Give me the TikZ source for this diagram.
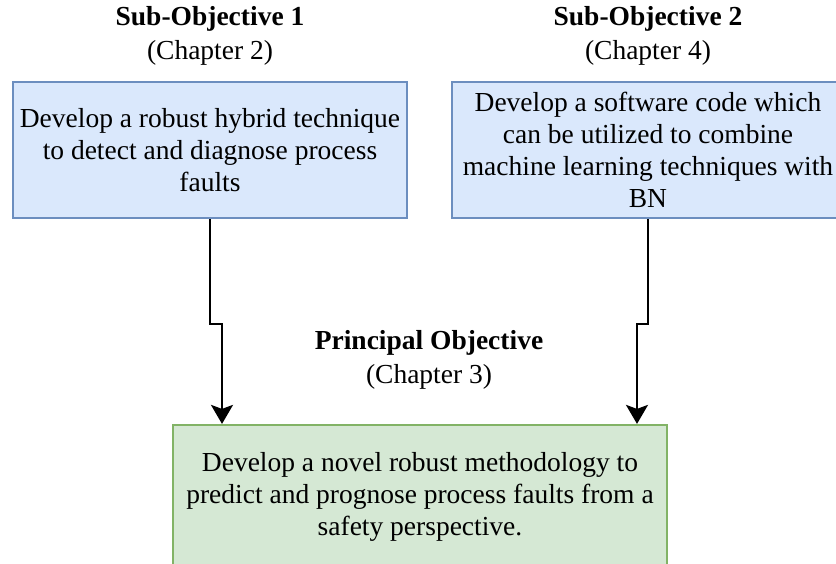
\documentclass[tikz,border=0pt]{standalone}
\usepackage{fontspec}
\setmainfont{Liberation Serif}
\usetikzlibrary{arrows.meta}
\definecolor{subfill}{HTML}{DAE8FC}
\definecolor{subline}{HTML}{6C8EBF}
\definecolor{mainfill}{HTML}{D5E8D4}
\definecolor{mainline}{HTML}{82B366}
\tikzset{
    txt/.style = {font=\fontsize{27.5}{32}\selectfont, align=center, inner sep=0pt},
    subbox/.style = {txt, draw=subline, fill=subfill, line width=2.2pt, minimum height=136pt},
    mainbox/.style = {txt, draw=mainline, fill=mainfill, line width=2.2pt, minimum width=494pt, minimum height=144pt},
    flow/.style = {line width=2.2pt, -{Stealth[length=19pt, width=22pt, inset=4pt]}}
}
\begin{document}
\begin{tikzpicture}[x=1pt, y=1pt]
            \useasboundingbox (0, 0) rectangle (836, -563);

            \node[txt] (head1) at (210, -36) {\textbf{Sub-Objective 1}\\[2pt](Chapter 2)};
            \node[txt] (head2) at (648, -36) {\textbf{Sub-Objective 2}\\[2pt](Chapter 4)};
            \node[txt] (headp) at (429, -360) {\textbf{Principal Objective}\\[2pt](Chapter 3)};

            \node[subbox, minimum width=394pt] (sub1) at (210, -150) {Develop a robust hybrid technique\\to detect and diagnose process\\faults};
            \node[subbox, minimum width=392pt] (sub2) at (648, -150) {Develop a software code which\\can be utilized to combine\\machine learning techniques with\\BN};
            \node[mainbox] (main) at (420, -497) {Develop a novel robust methodology to\\predict and prognose process faults from a\\safety perspective.};

            \coordinate (inL) at ([xshift=-198pt]main.north);
            \coordinate (inR) at ([xshift=217pt]main.north);
            \draw[flow] (sub1.south) -- ++(0, -105) -| (inL);
            \draw[flow] (sub2.south) -- ++(0, -105) -| (inR);
        \end{tikzpicture}
\end{document}
